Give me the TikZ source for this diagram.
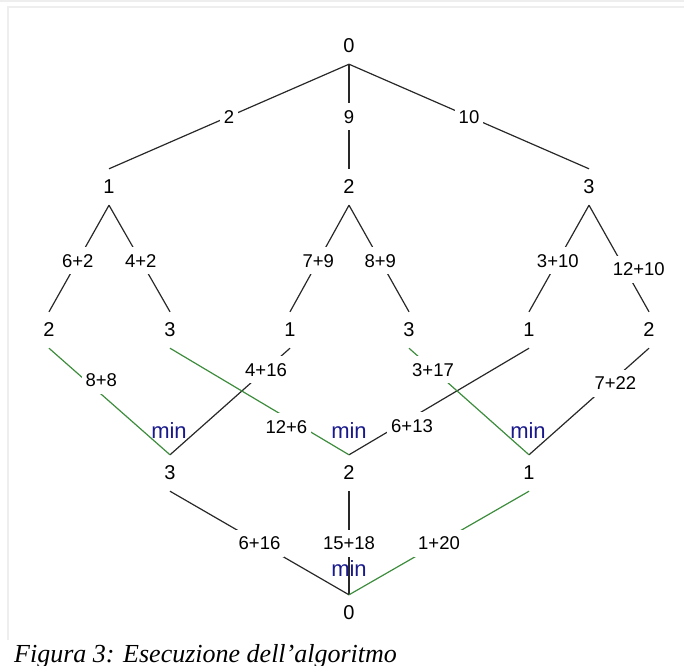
\documentclass[tikz,border=0pt]{standalone}
\usepackage{fontspec}
\setmainfont{Liberation Sans}
\newfontfamily\capfont{Liberation Serif}
\definecolor{edgegreen}{RGB}{60,140,60}
\definecolor{minblue}{RGB}{25,25,140}
\definecolor{edgeblack}{RGB}{40,40,40}
\definecolor{framegray}{RGB}{238,238,238}
\begin{document}
\begin{tikzpicture}[x=1pt,y=-1pt,
  vnode/.style={inner sep=0pt, minimum height=36pt, minimum width=14pt, font=\fontsize{20}{24}\selectfont},
  lbl/.style={fill=white, inner xsep=4pt, inner ysep=3pt, text height=17pt, text depth=4pt, font=\fontsize{18.5}{22}\selectfont, text=black},
  minlbl/.style={inner sep=0pt, text=minblue, font=\fontsize{22}{26}\selectfont},
  blk/.style={draw=edgeblack, line width=1.2pt},
  grn/.style={draw=edgegreen, line width=1.2pt},
  framestyle/.style={draw=framegray, line width=1.6pt},
]
\useasboundingbox (0,0) rectangle (684,665);
% faint frame
\draw[framestyle] (0,1) -- (684,1);
\draw[framestyle] (8,640) -- (8,7) -- (684,7);

% vertices
\node[vnode] (r)  at (349,46)  {0};
\node[vnode] (a1) at (109,187) {1};
\node[vnode] (a2) at (349,187) {2};
\node[vnode] (a3) at (589,187) {3};
\node[vnode] (b1) at (49,330)  {2};
\node[vnode] (b2) at (170,330) {3};
\node[vnode] (b3) at (290,330) {1};
\node[vnode] (b4) at (409,330) {3};
\node[vnode] (b5) at (529,330) {1};
\node[vnode] (b6) at (649,330) {2};
\node[vnode] (c1) at (170,473) {3};
\node[vnode] (c2) at (349,473) {2};
\node[vnode] (c3) at (529,473) {1};
\node[vnode] (d)  at (349,613) {0};

% level 0 -> 1
\draw[blk] (r.south) -- node[lbl]{2} (a1.north);
\draw[blk] (r.south) -- node[lbl]{9} (a2.north);
\draw[blk] (r.south) -- node[lbl]{10} (a3.north);

% level 1 -> 2
\draw[blk] (a1.south) -- node[lbl, pos=0.52]{6+2} (b1.north);
\draw[blk] (a1.south) -- node[lbl, pos=0.52]{4+2} (b2.north);
\draw[blk] (a2.south) -- node[lbl, pos=0.52]{7+9} (b3.north);
\draw[blk] (a2.south) -- node[lbl, pos=0.52]{8+9} (b4.north);
\draw[blk] (a3.south) -- node[lbl, pos=0.52]{3+10} (b5.north);
\draw[blk] (a3.south) -- node[lbl, pos=0.58, xshift=15pt, yshift=-2pt]{12+10} (b6.north);

% level 2 -> 3
\draw[blk] (b3.south) -- node[lbl, pos=0.2]{4+16} (c1.north);
\draw[blk] (b5.south) -- node[lbl, pos=0.65, yshift=-8pt]{6+13} (c2.north);
\draw[blk] (b6.south) -- node[lbl, pos=0.28, yshift=-5pt]{7+22} (c3.north);
\draw[grn] (b1.south) -- node[lbl, pos=0.3, xshift=16pt]{8+8} (c1.north);
\draw[grn] (b2.south) -- node[lbl, pos=0.65, yshift=-9pt]{12+6} (c2.north);
\draw[grn] (b4.south) -- node[lbl, pos=0.2]{3+17} (c3.north);

% level 3 -> 4
\draw[blk] (c1.south) -- node[lbl]{6+16} (d.north);
\draw[blk] (c2.south) -- node[lbl]{15+18} (d.north);
\draw[grn] (c3.south) -- node[lbl]{1+20} (d.north);

% min marks
\node[minlbl] (m1) at (169,431) {min};
\node[minlbl] (m2) at (349,431) {min};
\node[minlbl] (m3) at (528,431) {min};
\node[minlbl] (m4) at (349,569) {min};

% caption
\node[anchor=base west, inner sep=0pt, font=\capfont\itshape\fontsize{26}{30}\selectfont] (cap) at (14,662) {Figura 3: Esecuzione dell’algoritmo};
\end{tikzpicture}
\end{document}
